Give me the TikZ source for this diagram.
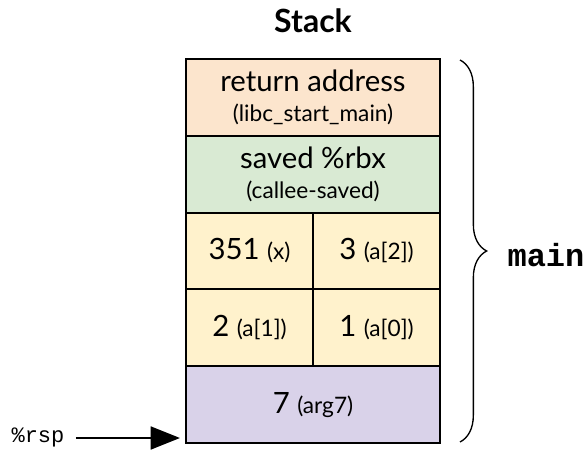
\documentclass[tikz,border=0pt]{standalone}
\usepackage{fontspec}
\setmainfont{Lato}
\newfontfamily\codefont{Liberation Mono}
\usetikzlibrary{arrows.meta,decorations.pathreplacing}
\usepackage{xcolor}
\definecolor{retfill}{HTML}{FCE5CD}
\definecolor{savefill}{HTML}{D9EAD3}
\definecolor{localfill}{HTML}{FFF2CC}
\definecolor{argfill}{HTML}{D9D2E9}

\begin{document}
\begin{tikzpicture}[x=0.75pt,y=-0.75pt]
      \useasboundingbox (0,0) rectangle (586,456);
      \tikzset{
        cell/.style={draw, line width=1.5pt, align=center, inner sep=0pt,
          minimum height=57.6pt, font=\fontsize{22}{23}\selectfont},
        wide/.style={cell, minimum width=190.5pt},
        half/.style={cell, minimum width=95.25pt, fill=localfill}
      }
      \def\sm#1{{\fontsize{17}{20}\selectfont #1}}
      \def\H{76.8}

      % Cadres de la pile
      \node[wide, fill=retfill] (ret) at (313,{59+0.5*\H})
        {return address\\\sm{(libc\_start\_main)}};
      \node[wide, fill=savefill] (saved) at (313,{59+1.5*\H})
        {saved \%rbx\\\sm{(callee-saved)}};
      \node[half] (x) at (249.5,{59+2.5*\H}) {351 \sm{(x)}};
      \node[half] (a2) at (376.5,{59+2.5*\H}) {3 \sm{(a[2])}};
      \node[half] (a1) at (249.5,{59+3.5*\H}) {2 \sm{(a[1])}};
      \node[half] (a0) at (376.5,{59+3.5*\H}) {1 \sm{(a[0])}};
      \node[wide, fill=argfill] (arg) at (313,{59+4.5*\H}) {7 \sm{(arg7)}};

      % Titre
      \node[font=\fontsize{24}{28}\selectfont\bfseries] (title) at (313,21) {Stack};

      % Accolade
      \coordinate (btop) at (460,60);
      \coordinate (bbot) at (460,442);
      \draw[line width=1pt, decorate, decoration={brace, amplitude=20pt}]
        (btop) -- (bbot);
      \node[font=\codefont\bfseries\fontsize{24}{28}\selectfont] (main) at (546,255) {main};

      % Pointeur
      \node[font=\codefont\fontsize{16.5}{20}\selectfont] (rsp) at (38,437) {\%rsp};
      \coordinate (tip) at (180,438);
      \draw[line width=2.2pt, shorten <=5pt, -{Triangle[length=22pt, width=17pt]}]
        (rsp.east |- tip) -- (tip);
    \end{tikzpicture}
\end{document}
